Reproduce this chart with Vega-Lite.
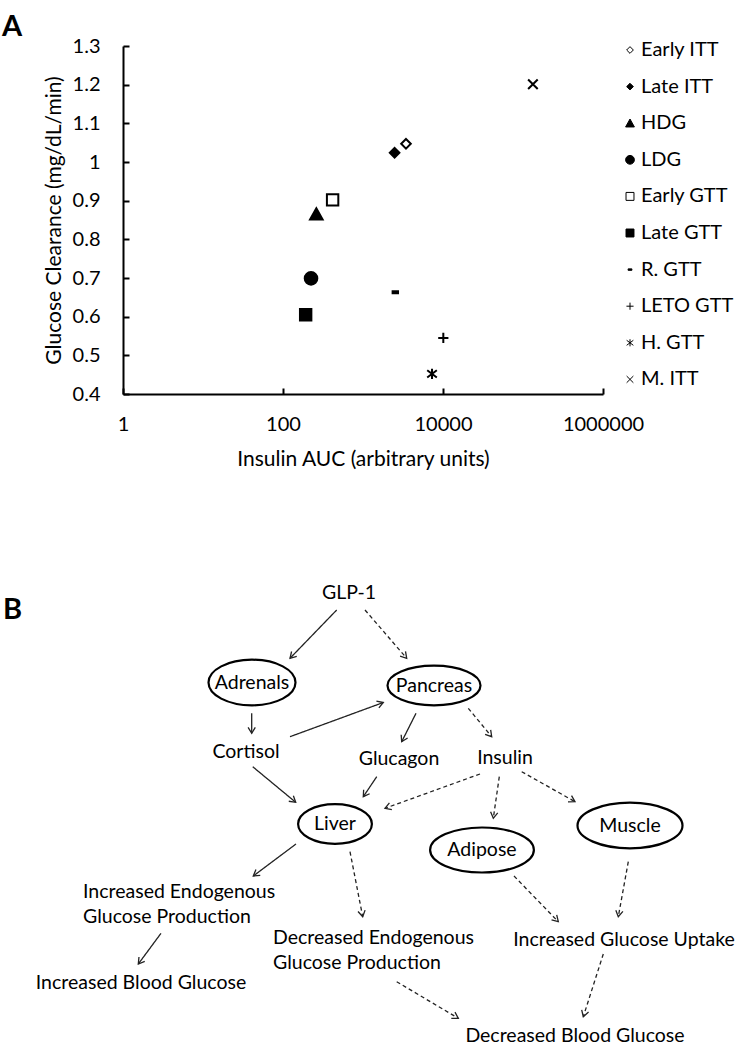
{
  "$schema": "https://vega.github.io/schema/vega-lite/v6.json",
  "background": "white",
  "padding": {"left": 2, "top": 13, "right": 0, "bottom": 0},
  "bounds": "flush",
  "spacing": 166,
  "resolve": {
    "scale": {"shape": "independent", "fill": "independent", "strokeDash": "independent"},
    "legend": {"shape": "independent", "fill": "independent"}
  },
  "config": {
    "font": "Lato",
    "view": {"stroke": null},
    "axis": {
      "grid": false,
      "domainColor": "black",
      "domainWidth": 2,
      "tickColor": "black",
      "tickWidth": 2,
      "tickSize": -6,
      "labelColor": "black",
      "titleColor": "black",
      "labelFont": "Lato",
      "titleFont": "Lato",
      "labelFontSize": 20,
      "titleFontSize": 21,
      "titleFontWeight": "normal",
      "labelOverlap": false
    }
  },
  "datasets": {
    "scatter": [
      {"series": "Early ITT", "insulin_auc": 3447, "clearance": 1.047},
      {"series": "Late ITT", "insulin_auc": 2483, "clearance": 1.024},
      {"series": "HDG", "insulin_auc": 261, "clearance": 0.865},
      {"series": "LDG", "insulin_auc": 224, "clearance": 0.699},
      {"series": "Early GTT", "insulin_auc": 417, "clearance": 0.902},
      {"series": "Late GTT", "insulin_auc": 192, "clearance": 0.605},
      {"series": "R. GTT", "insulin_auc": 2535, "clearance": 0.663},
      {"series": "LETO GTT", "insulin_auc": 10090, "clearance": 0.545},
      {"series": "H. GTT", "insulin_auc": 7290, "clearance": 0.452},
      {"series": "M. ITT", "insulin_auc": 133000, "clearance": 1.201}
    ],
    "organs": [
      {"organ": "Adrenals", "x": 252, "y": 682.5},
      {"organ": "Pancreas", "x": 434, "y": 685.5},
      {"organ": "Liver", "x": 335, "y": 824},
      {"organ": "Adipose", "x": 482, "y": 850},
      {"organ": "Muscle", "x": 630, "y": 825.5}
    ],
    "labels": [
      {"label": "GLP-1", "x": 349, "y": 593},
      {"label": "Cortisol", "x": 246, "y": 752},
      {"label": "Glucagon", "x": 399, "y": 759},
      {"label": "Insulin", "x": 505, "y": 758},
      {"label": "Increased Endogenous\nGlucose Production", "x": 83, "y": 892},
      {"label": "Increased Blood Glucose", "x": 141, "y": 983},
      {"label": "Decreased Endogenous\nGlucose Production", "x": 273, "y": 937.5},
      {"label": "Increased Glucose Uptake", "x": 624, "y": 940},
      {"label": "Decreased Blood Glucose", "x": 575, "y": 1036}
    ],
    "arrows": [
      {"from": "GLP-1", "to": "Adrenals", "x": 336.7, "y": 610, "x2": 290, "y2": 658.3, "line": "solid"},
      {"from": "GLP-1", "to": "Pancreas", "x": 365, "y": 610, "x2": 406.7, "y2": 658.3, "line": "dashed"},
      {"from": "Adrenals", "to": "Cortisol", "x": 251.7, "y": 713.3, "x2": 251.7, "y2": 733.3, "line": "solid"},
      {"from": "Cortisol", "to": "Pancreas", "x": 290, "y": 736.7, "x2": 383.3, "y2": 702.5, "line": "solid"},
      {"from": "Pancreas", "to": "Glucagon", "x": 416, "y": 713.3, "x2": 401.7, "y2": 741.7, "line": "solid"},
      {"from": "Pancreas", "to": "Insulin", "x": 468.3, "y": 708.3, "x2": 491.7, "y2": 736.7, "line": "dashed"},
      {"from": "Cortisol", "to": "Liver", "x": 252.7, "y": 766.7, "x2": 295.7, "y2": 802.3, "line": "solid"},
      {"from": "Glucagon", "to": "Liver", "x": 376.7, "y": 776.7, "x2": 363.3, "y2": 796.7, "line": "solid"},
      {"from": "Insulin", "to": "Liver", "x": 480, "y": 774, "x2": 385, "y2": 808.3, "line": "dashed"},
      {"from": "Insulin", "to": "Adipose", "x": 499.3, "y": 776.7, "x2": 493.3, "y2": 818.3, "line": "dashed"},
      {"from": "Insulin", "to": "Muscle", "x": 521.7, "y": 771.7, "x2": 575, "y2": 801.7, "line": "dashed"},
      {"from": "Liver", "to": "Increased Endogenous Glucose Production", "x": 296, "y": 844, "x2": 253.3, "y2": 876, "line": "solid"},
      {"from": "Liver", "to": "Decreased Endogenous Glucose Production", "x": 350, "y": 851.7, "x2": 362.7, "y2": 916.7, "line": "dashed"},
      {"from": "Increased Endogenous Glucose Production", "to": "Increased Blood Glucose", "x": 161, "y": 933.3, "x2": 138.3, "y2": 964, "line": "solid"},
      {"from": "Adipose", "to": "Increased Glucose Uptake", "x": 514, "y": 876, "x2": 558.3, "y2": 921.7, "line": "dashed"},
      {"from": "Muscle", "to": "Increased Glucose Uptake", "x": 628.3, "y": 861.7, "x2": 618.3, "y2": 916.7, "line": "dashed"},
      {"from": "Decreased Endogenous Glucose Production", "to": "Decreased Blood Glucose", "x": 396.7, "y": 981.7, "x2": 458.3, "y2": 1018.3, "line": "dashed"},
      {"from": "Increased Glucose Uptake", "to": "Decreased Blood Glucose", "x": 603.3, "y": 954, "x2": 583.3, "y2": 1016.7, "line": "dashed"}
    ]
  },
  "vconcat": [
    {
      "width": 480,
      "height": 348,
      "title": {"text": "A", "anchor": "start", "frame": "group", "fontSize": 29, "fontWeight": "bold", "color": "black", "font": "Lato", "baseline": "alphabetic", "offset": -29, "dx": -121},
      "data": {"name": "scatter"},
      "mark": {"type": "point", "opacity": 1, "stroke": "black", "strokeWidth": 2, "size": 144},
      "encoding": {
        "x": {
          "field": "insulin_auc", "type": "quantitative",
          "scale": {"type": "log", "domain": [1, 1000000], "nice": false},
          "axis": {"title": "Insulin AUC (arbitrary units)", "values": [1, 100, 10000, 1000000], "format": "d", "labelFlush": false, "labelPadding": 26, "titlePadding": 14}
        },
        "y": {
          "field": "clearance", "type": "quantitative",
          "scale": {"domain": [0.4, 1.3], "nice": false, "zero": false},
          "axis": {"title": "Glucose Clearance (mg/dL/min)", "values": [0.4, 0.5, 0.6, 0.7, 0.8, 0.9, 1, 1.1, 1.2, 1.3], "format": "~g", "labelPadding": 29, "titlePadding": 8}
        },
        "shape": {
          "field": "series", "type": "nominal",
          "scale": {
            "domain": ["Early ITT", "Late ITT", "HDG", "LDG", "Early GTT", "Late GTT", "R. GTT", "LETO GTT", "H. GTT", "M. ITT"],
            "range": [
              "M 0 -0.8 L 0.8 0 L 0 0.8 L -0.8 0 Z",
              "M 0 -0.8 L 0.8 0 L 0 0.8 L -0.8 0 Z",
              "M 0 -1 L 1.05 0.9 L -1.05 0.9 Z",
              "M -1.05 0 A 1.05 1.05 0 1 0 1.05 0 A 1.05 1.05 0 1 0 -1.05 0 Z",
              "M -0.95 -0.95 H 0.95 V 0.95 H -0.95 Z",
              "M -0.95 -0.95 H 0.95 V 0.95 H -0.95 Z",
              "M -0.45 -0.17 H 0.45 V 0.17 H -0.45 Z",
              "M -0.85 0 H 0.85 M 0 -0.85 V 0.85",
              "M 0 -0.85 V 0.85 M -0.8 -0.6 L 0.8 0.6 M -0.8 0.6 L 0.8 -0.6",
              "M -0.8 -0.8 L 0.8 0.8 M -0.8 0.8 L 0.8 -0.8"
            ]
          },
          "legend": {"title": null, "orient": "none", "legendX": 497, "legendY": -6, "symbolSize": 70, "symbolStrokeWidth": 1, "labelFontSize": 20, "labelColor": "black", "labelFont": "Lato", "labelOffset": 1, "rowPadding": 16.6, "padding": 0, "direction": "vertical", "encoding": {"symbols": {"update": {"stroke": {"value": "black"}, "strokeWidth": {"value": 1}}}}}
        },
        "fill": {
          "field": "series", "type": "nominal",
          "scale": {
            "domain": ["Early ITT", "Late ITT", "HDG", "LDG", "Early GTT", "Late GTT", "R. GTT", "LETO GTT", "H. GTT", "M. ITT"],
            "range": ["white", "black", "black", "black", "white", "black", "black", "black", "black", "black"]
          },
          "legend": {"title": null, "orient": "none", "legendX": 497, "legendY": -6, "symbolSize": 70, "symbolStrokeWidth": 1, "labelFontSize": 20, "labelColor": "black", "labelFont": "Lato", "labelOffset": 1, "rowPadding": 16.6, "padding": 0, "direction": "vertical", "encoding": {"symbols": {"update": {"stroke": {"value": "black"}, "strokeWidth": {"value": 1}}}}}
        }
      }
    },
    {
      "width": 617,
      "height": 490,
      "title": {"text": "B", "anchor": "start", "frame": "group", "fontSize": 29, "fontWeight": "bold", "color": "black", "font": "Lato", "baseline": "alphabetic", "offset": 0, "dy": 88, "dx": -120},
      "layer": [
        {
          "data": {"name": "arrows"},
          "mark": {"type": "rule", "stroke": "#222222", "strokeWidth": 1.3},
          "encoding": {
            "x": {"field": "x", "type": "quantitative", "scale": {"domain": [123, 740], "nice": false, "zero": false}, "axis": null},
            "y": {"field": "y", "type": "quantitative", "scale": {"domain": [560, 1050], "nice": false, "zero": false, "reverse": true}, "axis": null},
            "x2": {"field": "x2"},
            "y2": {"field": "y2"},
            "strokeDash": {"field": "line", "type": "nominal", "scale": {"domain": ["solid", "dashed"], "range": [[1, 0], [4, 3]]}, "legend": null}
          }
        },
        {
          "data": {"name": "arrows"},
          "transform": [{"calculate": "atan2(datum.y2 - datum.y, datum.x2 - datum.x) * 180 / PI", "as": "angle"}],
          "mark": {"type": "point", "shape": "M -1 -0.6 L 0 0 L -1 0.6", "filled": false, "stroke": "#222222", "strokeWidth": 1.3, "opacity": 1, "size": 144},
          "encoding": {
            "x": {"field": "x2", "type": "quantitative", "scale": {"domain": [123, 740], "nice": false, "zero": false}, "axis": null},
            "y": {"field": "y2", "type": "quantitative", "scale": {"domain": [560, 1050], "nice": false, "zero": false, "reverse": true}, "axis": null},
            "angle": {"field": "angle", "type": "quantitative", "scale": null}
          }
        },
        {
          "data": {"name": "organs"},
          "mark": {"type": "point", "filled": false, "stroke": "black", "strokeWidth": 2.2, "opacity": 1, "size": 3600},
          "encoding": {
            "x": {"field": "x", "type": "quantitative", "scale": {"domain": [123, 740], "nice": false, "zero": false}, "axis": null},
            "y": {"field": "y", "type": "quantitative", "scale": {"domain": [560, 1050], "nice": false, "zero": false, "reverse": true}, "axis": null},
            "shape": {
              "field": "organ", "type": "nominal",
              "scale": {
                "domain": ["Adrenals", "Pancreas", "Liver", "Adipose", "Muscle"],
                "range": [
                  "M -1.45 0 A 1.45 0.76 0 1 0 1.45 0 A 1.45 0.76 0 1 0 -1.45 0 Z",
                  "M -1.55 0 A 1.55 0.66 0 1 0 1.55 0 A 1.55 0.66 0 1 0 -1.55 0 Z",
                  "M -1.23 0 A 1.23 0.66 0 1 0 1.23 0 A 1.23 0.66 0 1 0 -1.23 0 Z",
                  "M -1.73 0 A 1.73 0.75 0 1 0 1.73 0 A 1.73 0.75 0 1 0 -1.73 0 Z",
                  "M -1.75 0 A 1.75 0.76 0 1 0 1.75 0 A 1.75 0.76 0 1 0 -1.75 0 Z"
                ]
              },
              "legend": null
            }
          }
        },
        {
          "data": {"name": "organs"},
          "mark": {"type": "text", "fontSize": 19.5, "font": "Lato", "color": "black", "align": "center", "baseline": "middle"},
          "encoding": {
            "x": {"field": "x", "type": "quantitative", "scale": {"domain": [123, 740], "nice": false, "zero": false}, "axis": null},
            "y": {"field": "y", "type": "quantitative", "scale": {"domain": [560, 1050], "nice": false, "zero": false, "reverse": true}, "axis": null},
            "text": {"field": "organ", "type": "nominal"}
          }
        },
        {
          "data": {"name": "labels"},
          "transform": [{"filter": "indexof(datum.label, '\\n') < 0"}],
          "mark": {"type": "text", "fontSize": 19.5, "font": "Lato", "color": "black", "align": "center", "baseline": "middle"},
          "encoding": {
            "x": {"field": "x", "type": "quantitative", "scale": {"domain": [123, 740], "nice": false, "zero": false}, "axis": null},
            "y": {"field": "y", "type": "quantitative", "scale": {"domain": [560, 1050], "nice": false, "zero": false, "reverse": true}, "axis": null},
            "text": {"field": "label", "type": "nominal"}
          }
        },
        {
          "data": {"name": "labels"},
          "transform": [{"filter": "indexof(datum.label, '\\n') >= 0"}],
          "mark": {"type": "text", "fontSize": 19.5, "font": "Lato", "color": "black", "align": "left", "baseline": "middle", "lineBreak": "\n", "lineHeight": 25},
          "encoding": {
            "x": {"field": "x", "type": "quantitative", "scale": {"domain": [123, 740], "nice": false, "zero": false}, "axis": null},
            "y": {"field": "y", "type": "quantitative", "scale": {"domain": [560, 1050], "nice": false, "zero": false, "reverse": true}, "axis": null},
            "text": {"field": "label", "type": "nominal"}
          }
        }
      ]
    }
  ]
}
